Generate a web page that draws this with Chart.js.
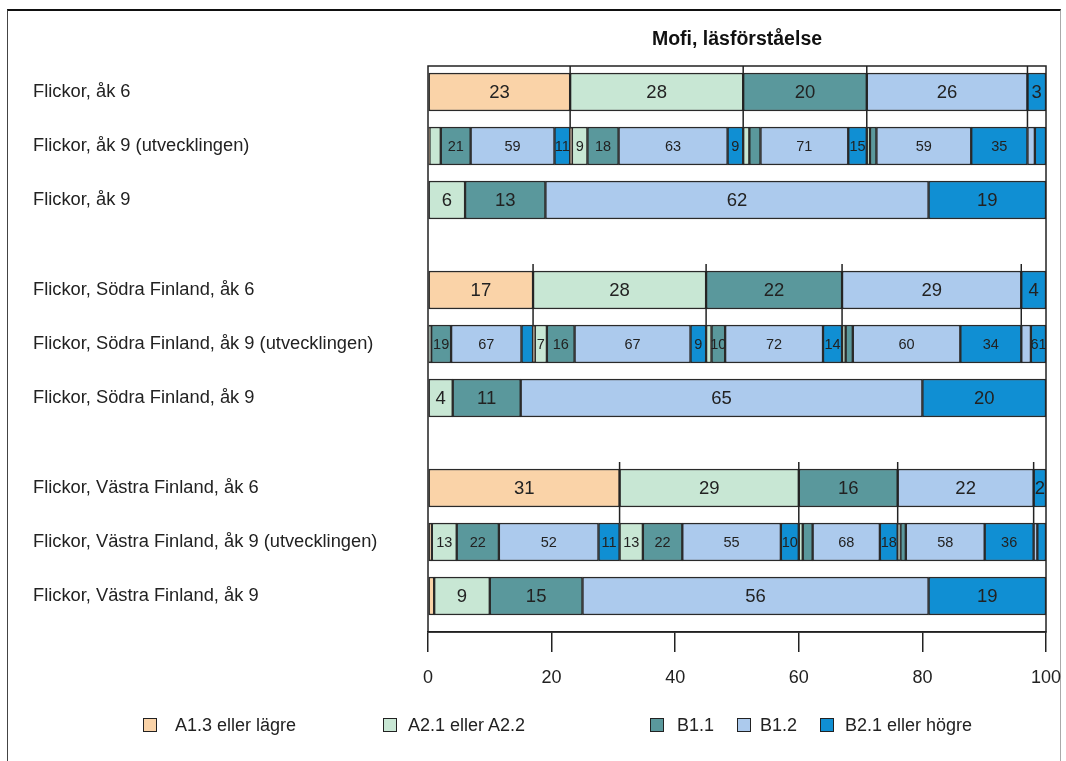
<!DOCTYPE html>
<html>
<head>
<meta charset="utf-8">
<script src="https://cdn.jsdelivr.net/npm/chart.js@4.4.1/dist/chart.umd.min.js"></script>
<style>
  html, body { margin: 0; padding: 0; background: #fff; }
  body { width: 1066px; height: 761px; position: relative; overflow: hidden; font-family: "Liberation Sans", Arial, sans-serif; }
  #frame { position: absolute; left: 7px; top: 9px; width: 1052px; height: 760px;
           border-top: 2px solid #111; border-left: 1px solid #444; border-right: 1px solid #aaa; }
  #chart { position: absolute; left: 0; top: 0; }
  .leg { position: absolute; top: 715px; height: 20px; font-size: 18px; color: #222; line-height: 20px; white-space: nowrap; }
  .leg span.box { position: absolute; left: 0; top: 3px; width: 12px; height: 12px; border: 1.5px solid #222; }
  .leg span.txt { position: absolute; top: 0; }
</style>
</head>
<body>
<div id="frame"></div>
<canvas id="chart" width="1066" height="761"></canvas>
<div id="legend"></div>
<script>
// Proficiency levels and their colours
const levels = ['A1.3 eller lägre', 'A2.1 eller A2.2', 'B1.1', 'B1.2', 'B2.1 eller högre'];
const levelColors = ['#FAD3A8', '#C8E7D4', '#5A989C', '#ACCAED', '#108FD3'];

// Row labels and their positions on the vertical axis
const rowLabels = [
  'Flickor, åk 6',
  'Flickor, åk 9 (utvecklingen)',
  'Flickor, åk 9',
  'Flickor, Södra Finland, åk 6',
  'Flickor, Södra Finland, åk 9 (utvecklingen)',
  'Flickor, Södra Finland, åk 9',
  'Flickor, Västra Finland, åk 6',
  'Flickor, Västra Finland, åk 9 (utvecklingen)',
  'Flickor, Västra Finland, åk 9'
];
const rowPos = [0, 3, 6, 11, 14, 17, 22, 25, 28];

// Flickor, hela landet (%)
const flickorAk6 = [23, 28, 20, 26, 3];
const flickorAk9 = [0, 6, 13, 62, 19];
// Åk 9 level by åk 6 level (% within each åk 6 level)
const flickorUtv = [[1, 8, 21, 59, 11], [1, 9, 18, 63, 9], [0, 5, 9, 71, 15], [0, 2, 4, 59, 35], [0, 0, 0, 40, 60]];

// Flickor, Södra Finland (%)
const sodraAk6 = [17, 28, 22, 29, 4];
const sodraAk9 = [0, 4, 11, 65, 20];
const sodraUtv = [[0, 3, 19, 67, 11], [1, 7, 16, 67, 9], [0, 4, 10, 72, 14], [0, 2, 4, 60, 34], [0, 0, 0, 39, 61]];

// Flickor, Västra Finland (%)
const vastraAk6 = [31, 29, 16, 22, 2];
const vastraAk9 = [1, 9, 15, 56, 19];
const vastraUtv = [[2, 13, 22, 52, 11], [0, 13, 22, 55, 10], [0, 4, 10, 68, 18], [0, 2, 4, 58, 36], [0, 0, 0, 30, 70]];

const xTicks = [0, 20, 40, 60, 80, 100];

const groups = [
  { ak6: flickorAk6, ak9: flickorAk9, utv: flickorUtv, rows: [0, 1, 2] },
  { ak6: sodraAk6,   ak9: sodraAk9,   utv: sodraUtv,   rows: [3, 4, 5] },
  { ak6: vastraAk6,  ak9: vastraAk9,  utv: vastraUtv,  rows: [6, 7, 8] }
];

// One dataset per level for the åk 6 and åk 9 rows
const datasets = [];
levels.forEach((name, l) => {
  const data = [];
  groups.forEach(g => {
    if (g.ak6[l] > 0) data.push({ x: g.ak6[l], y: rowPos[g.rows[0]], label: g.ak6[l] });
    if (g.ak9[l] > 0) data.push({ x: g.ak9[l], y: rowPos[g.rows[2]], label: g.ak9[l] });
  });
  datasets.push({ label: name, data, backgroundColor: levelColors[l], labelSize: 18.5 });
});
// Development rows: each åk 6 level split by the åk 9 level reached
for (let s = 0; s < levels.length; s++) {
  for (let l = 0; l < levels.length; l++) {
    const data = [];
    groups.forEach(g => {
      const pct = g.utv[s][l];
      if (pct > 0) data.push({ x: g.ak6[s] * pct / 100, y: rowPos[g.rows[1]], label: pct });
    });
    datasets.push({ label: levels[l] + ' (' + levels[s] + ')', data, backgroundColor: levelColors[l], labelSize: 14.5 });
  }
}

const ink = '#222';

// Plot frame, links from åk 6 segments down to their development split, and value labels
const overlay = {
  id: 'overlay',
  afterDatasetsDraw(chart) {
    const { ctx, chartArea: a, scales: { x, y } } = chart;
    ctx.save();
    ctx.strokeStyle = ink;
    ctx.lineWidth = 1.5;
    groups.forEach(g => {
      const yTop = y.getPixelForValue(rowPos[g.rows[0]]) - 19 - 7;
      const yBot = y.getPixelForValue(rowPos[g.rows[1]]) - 19;
      let cum = 0;
      for (let s = 0; s < g.ak6.length - 1; s++) {
        cum += g.ak6[s];
        const px = x.getPixelForValue(cum);
        ctx.beginPath();
        ctx.moveTo(px, Math.max(yTop, a.top));
        ctx.lineTo(px, yBot);
        ctx.stroke();
      }
    });
    ctx.strokeRect(a.left, a.top, a.right - a.left, a.bottom - a.top);

    ctx.fillStyle = ink;
    ctx.textAlign = 'center';
    ctx.textBaseline = 'middle';
    chart.data.datasets.forEach((ds, i) => {
      const meta = chart.getDatasetMeta(i);
      ctx.font = ds.labelSize + 'px "Liberation Sans", Arial, sans-serif';
      meta.data.forEach((el, j) => {
        const d = ds.data[j];
        if (d.x < 1.9) return;
        ctx.fillText(String(d.label), (el.x + el.base) / 2, el.y + 1);
      });
    });
    ctx.restore();
  }
};

Chart.defaults.font.family = '"Liberation Sans", Arial, sans-serif';
Chart.defaults.color = ink;

new Chart(document.getElementById('chart'), {
  type: 'bar',
  data: { datasets },
  options: {
    indexAxis: 'y',
    responsive: false,
    animation: false,
    devicePixelRatio: 1,
    layout: { padding: { left: 33, right: 20, top: 0, bottom: 59 } },
    datasets: { bar: { barThickness: 38, borderColor: '#2a2a2a', borderWidth: 1.5, borderSkipped: false } },
    plugins: {
      legend: { display: false },
      tooltip: { enabled: false },
      title: {
        display: true,
        text: 'Mofi, läsförståelse',
        fullSize: false,
        color: '#111',
        font: { size: 19.5, weight: 'bold' },
        padding: { top: 28, bottom: 14.6 }
      }
    },
    scales: {
      x: {
        type: 'linear',
        stacked: true,
        min: 0,
        max: 100,
        afterBuildTicks: s => { s.ticks = xTicks.map(v => ({ value: v })); },
        afterFit: s => { s.height = 70; s.paddingLeft = 0; s.paddingRight = 0; },
        ticks: { font: { size: 18 }, color: ink, padding: 15 },
        grid: { drawOnChartArea: false, tickLength: 20, color: ink, lineWidth: 1.5 },
        border: { display: true, color: ink, width: 1.5 }
      },
      y: {
        type: 'linear',
        stacked: true,
        reverse: true,
        offset: false,
        min: -1.444,
        max: 30,
        afterBuildTicks: s => { s.ticks = rowPos.map(v => ({ value: v })); },
        afterFit: s => { s.width = 395; },
        ticks: {
          crossAlign: 'far',
          autoSkip: false,
          font: { size: 18.3 },
          color: ink,
          callback: (v, i) => rowLabels[i]
        },
        grid: { display: false, offset: false },
        border: { display: false }
      }
    }
  },
  plugins: [overlay]
});

// Legend
const legendPos = [[143, 175], [383, 408], [650, 677], [737, 760], [820, 845]];
const legendEl = document.getElementById('legend');
levels.forEach((name, l) => {
  const item = document.createElement('div');
  item.className = 'leg';
  item.style.left = legendPos[l][0] + 'px';
  const box = document.createElement('span');
  box.className = 'box';
  box.style.background = levelColors[l];
  const txt = document.createElement('span');
  txt.className = 'txt';
  txt.style.left = (legendPos[l][1] - legendPos[l][0]) + 'px';
  txt.textContent = name;
  item.appendChild(box);
  item.appendChild(txt);
  legendEl.appendChild(item);
});
</script>
</body>
</html>
